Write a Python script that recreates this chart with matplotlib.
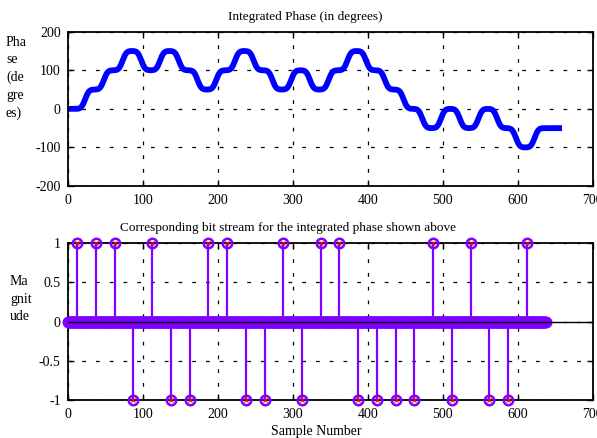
import numpy as np
import matplotlib
matplotlib.use("Agg")
import matplotlib.pyplot as plt

plt.rcParams['font.family'] = ['Liberation Serif', 'DejaVu Serif']
plt.rcParams['font.size'] = 9.5
plt.rcParams['axes.unicode_minus'] = False

# Bit stream (one symbol every 25 samples, starting at sample 12)
bits = [1, 1, 1, -1, 1, -1, -1, 1, 1, -1, -1, 1, -1, 1, 1,
        -1, -1, -1, -1, 1, -1, 1, -1, -1, 1]
first_bit_sample = 12
samples_per_bit = 25
n_stream = 638          # length of the bit-stream record
n_phase = 660           # length of the filtered phase record
phase_step_deg = 50     # phase change per bit
filter_delay = 11       # group delay of the Gaussian shaping filter
filter_sigma = 4.0

x_ticks = [0, 100, 200, 300, 400, 500, 600, 700]
y_ticks_top = [-200, -100, 0, 100, 200]
y_ticks_bot = [-1, -0.5, 0, 0.5, 1]
y_ticklabels_bot = ["-1", "-0.5", "0", "0.5", "1"]

# Impulse train of bits
bit_pos = first_bit_sample + samples_per_bit * np.arange(len(bits))
stream = np.zeros(n_stream)
stream[bit_pos] = bits

# Gaussian-shaped frequency pulses, integrated to phase
t = np.arange(n_phase)
freq = np.zeros(n_phase)
for p, b in zip(bit_pos, bits):
    g = np.exp(-0.5 * ((t - (p + filter_delay)) / filter_sigma) ** 2)
    freq += b * g / g.sum()
phase = np.cumsum(freq) * phase_step_deg

fig = plt.figure(figsize=(5.97, 4.38), dpi=100)
W, H = 597, 438

def add_axes_px(left, top, right, bottom):
    return fig.add_axes([left / W, 1 - bottom / H, (right - left) / W, (bottom - top) / H])

grid_kw = dict(color='black', linestyle=(0, (3, 8)), linewidth=0.9)

def style(ax):
    for s in ax.spines.values():
        s.set_linewidth(1.3)
    ax.tick_params(direction='in', length=4, width=1, top=True, right=True,
                   labelsize=10, pad=5.5)
    ax.grid(True, **grid_kw)
    ax.set_axisbelow(True)

# Top: integrated phase
ax1 = add_axes_px(68.3, 31.7, 592.7, 186)
ax1.plot(t, phase, color=(0, 0, 1), linewidth=4.2, solid_capstyle='butt')
ax1.set_xlim(0, 700)
ax1.set_ylim(-200, 200)
ax1.set_xticks(x_ticks)
ax1.set_yticks(y_ticks_top)
style(ax1)
fig.text(305 / W, 1 - 17 / H, "Integrated Phase (in degrees)", ha='center', va='center')
fig.text(6 / W, 1 - 78 / H, "Pha\nse\n(de\ngre\nes)", ha='left', va='center',
         linespacing=1.45, fontsize=10)

# Bottom: bit stream
purple = (0.5, 0.0, 1.0)
n = np.arange(n_stream)
nz = stream != 0
ax2 = add_axes_px(68.3, 243.3, 592.7, 400)
ax2.vlines(n[nz], 0, stream[nz], color=purple, linewidth=1.6, zorder=3)
ax2.plot(n, stream, linestyle='none', marker='o', markersize=6.8,
         markerfacecolor='none', markeredgecolor=purple, markeredgewidth=1.8,
         clip_on=False, zorder=4)
ax2.plot(n[nz], stream[nz], linestyle='none', marker='x',
         markersize=3, markeredgecolor='red', markeredgewidth=0.8, clip_on=False, zorder=5)
ax2.axhline(0, color='black', linewidth=1.0, zorder=6)
ax2.set_xlim(0, 700)
ax2.set_ylim(-1, 1)
ax2.set_xticks(x_ticks)
ax2.set_yticks(y_ticks_bot)
ax2.set_yticklabels(y_ticklabels_bot)
style(ax2)
fig.text(287.5 / W, 1 - 228 / H, "Corresponding bit stream for the integrated phase shown above",
         ha='center', va='center')
fig.text(10 / W, 1 - 299 / H, "Ma\ngnit\nude", ha='left', va='center',
         linespacing=1.45, fontsize=10)
fig.text(316 / W, 1 - 431 / H, "Sample Number", ha='center', va='center', fontsize=10)

fig.savefig("out.png", dpi=100)
